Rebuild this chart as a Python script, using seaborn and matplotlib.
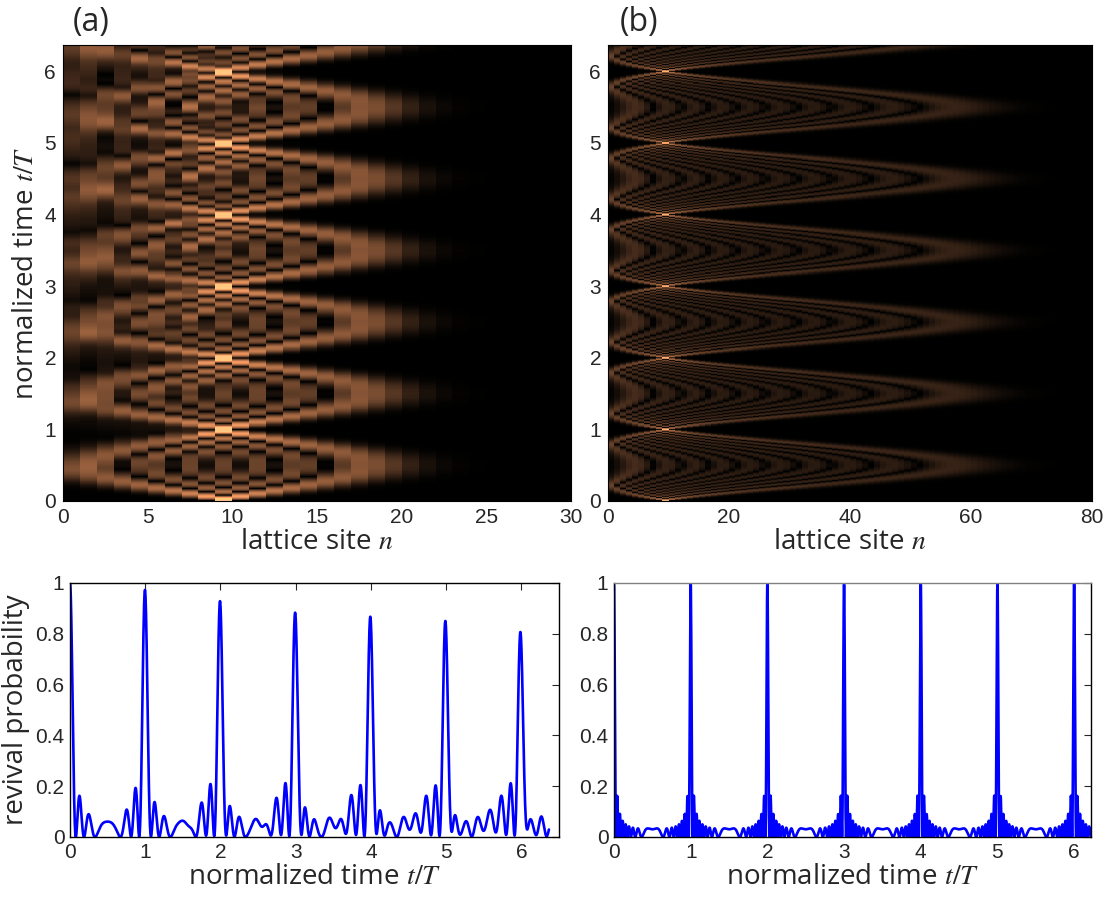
import numpy as np
import pandas as pd
import seaborn as sns
import matplotlib
matplotlib.use("Agg")
import matplotlib.pyplot as plt

# ---- values ----
sites_a = 30            # columns shown in map (a)
sites_b = 80            # columns shown in map (b)
start_site = 9          # excited site (bright column between n=9 and n=10)
hidden_a = 1            # lattice (a) starts this many sites left of n = 0
spread_a = 10.0         # breathing amplitude 4*kappa/F of the uniform lattice (a)
spread_b = 4.8          # largest displacement |alpha| of the sqrt(n) lattice (b)
t_top = 6.366           # upper edge of both maps, in units of T
t_last_a = 6.366        # last time of revival curve (a)
t_last_b = 6.22         # last time of revival curve (b)
xlim_rev_a = 6.5
xlim_rev_b = 6.22

xticks_a = [0, 5, 10, 15, 20, 25, 30]
xticks_b = [0, 20, 40, 60, 80]
tticks = [0, 1, 2, 3, 4, 5, 6]
pticks = [0, 0.2, 0.4, 0.6, 0.8, 1]
pticklabels = ["0", "0.2", "0.4", "0.6", "0.8", "1"]

vmax_a = 0.75
vmax_b = 1.1
W, H = 1110, 902


def evolve(ham, n0, times):
    E, V = np.linalg.eigh(ham)
    ph = np.exp(-1j * np.outer(times, E)) * V[n0, :]
    return ph @ V.T


F = 2 * np.pi  # T = 1

# lattice (a): uniform coupling, linear tilt, edge just left of the plot
n_a = np.arange(-hidden_a, sites_a + 10)
ham_a = np.diag(F * n_a) + np.diag(np.full(len(n_a) - 1, spread_a * F / 4), 1)
ham_a = ham_a + np.triu(ham_a, 1).T
i0_a = start_site + hidden_a

# lattice (b): coupling ~ sqrt(n), linear tilt
n_b = np.arange(130)
g = spread_b * F / 2
ham_b = np.diag(F * n_b) + np.diag(g * np.sqrt(n_b[1:]), 1)
ham_b = ham_b + np.triu(ham_b, 1).T

t_map = np.linspace(0, t_top, 900)
amp_a = np.abs(evolve(ham_a, i0_a, t_map))[:, hidden_a:hidden_a + sites_a]
amp_b = np.abs(evolve(ham_b, start_site, t_map))[:, :sites_b]

t_rev_a = np.linspace(0, t_last_a, 3000)
t_rev_b = np.linspace(0, t_last_b, 2600)
rev_a = np.abs(evolve(ham_a, i0_a, t_rev_a)[:, i0_a]) ** 2
rev_b = np.abs(evolve(ham_b, start_site, t_rev_b)[:, start_site]) ** 2

df_a = pd.DataFrame(amp_a, columns=np.arange(sites_a))
df_b = pd.DataFrame(amp_b, columns=np.arange(sites_b))

# ---- styling ----
sns.set_style("white")
plt.rcParams["font.family"] = ["Liberation Sans", "DejaVu Sans"]
plt.rcParams["mathtext.fontset"] = "stix"

fig = plt.figure(figsize=(W / 100, H / 100), dpi=100)


def box(l, t, r, b):
    return [l / W, 1 - b / H, (r - l) / W, (b - t) / H]


ax_a = fig.add_axes(box(63, 45, 571, 501))
ax_b = fig.add_axes(box(608, 45, 1092, 501))
ax_c = fig.add_axes(box(70, 583, 559, 837))
ax_d = fig.add_axes(box(614, 583, 1091, 837))

lab_font = dict(family=["Open Sans", "DejaVu Sans"], fontsize=20)
tick_fs = 15

for ax, df, xt, vm in [(ax_a, df_a, xticks_a, vmax_a), (ax_b, df_b, xticks_b, vmax_b)]:
    sns.heatmap(df, ax=ax, cmap="copper", vmin=0, vmax=vm, cbar=False,
                xticklabels=False, yticklabels=False, rasterized=True)
    nt = len(df)
    ax.set_ylim(0, nt)
    ax.set_xlim(0, df.shape[1])
    ax.set_xticks(xt)
    ax.set_xticklabels([str(v) for v in xt], fontsize=tick_fs)
    ax.set_yticks([k * nt / t_top for k in tticks])
    ax.set_yticklabels([str(k) for k in tticks], fontsize=tick_fs)
    ax.tick_params(direction="in", length=4, pad=5)
    ax.set_xlabel("lattice site $n$", labelpad=1, **lab_font)
    for s in ax.spines.values():
        s.set_visible(True)
        s.set_color("black")

ax_a.set_ylabel("normalized time $t/T$", labelpad=3, **lab_font)

for ax, t, p, xr in [(ax_c, t_rev_a, rev_a, xlim_rev_a), (ax_d, t_rev_b, rev_b, xlim_rev_b)]:
    sns.lineplot(x=t, y=p, ax=ax, color="#0000ff", linewidth=1.9)
    ax.set_xlim(0, xr)
    ax.set_ylim(0, 1)
    ax.set_xticks(tticks)
    ax.set_xticklabels([str(k) for k in tticks], fontsize=tick_fs)
    ax.set_yticks(pticks)
    ax.set_yticklabels(pticklabels, fontsize=tick_fs)
    ax.tick_params(direction="in", length=5, pad=4, top=True, right=True)
    ax.set_xlabel("normalized time $t/T$", labelpad=1, **lab_font)
    for s in ax.spines.values():
        s.set_color("black")
        s.set_linewidth(1.0)

ax_d.spines["top"].set_color("#808080")
ax_c.set_ylabel("revival probability", labelpad=4, **lab_font)

fig.text(73 / W, 1 - 22 / H, "(a)", ha="left", va="center",
         family=["Open Sans", "DejaVu Sans"], fontsize=23)
fig.text(620 / W, 1 - 22 / H, "(b)", ha="left", va="center",
         family=["Open Sans", "DejaVu Sans"], fontsize=23)

fig.savefig("out.png", dpi=100)
